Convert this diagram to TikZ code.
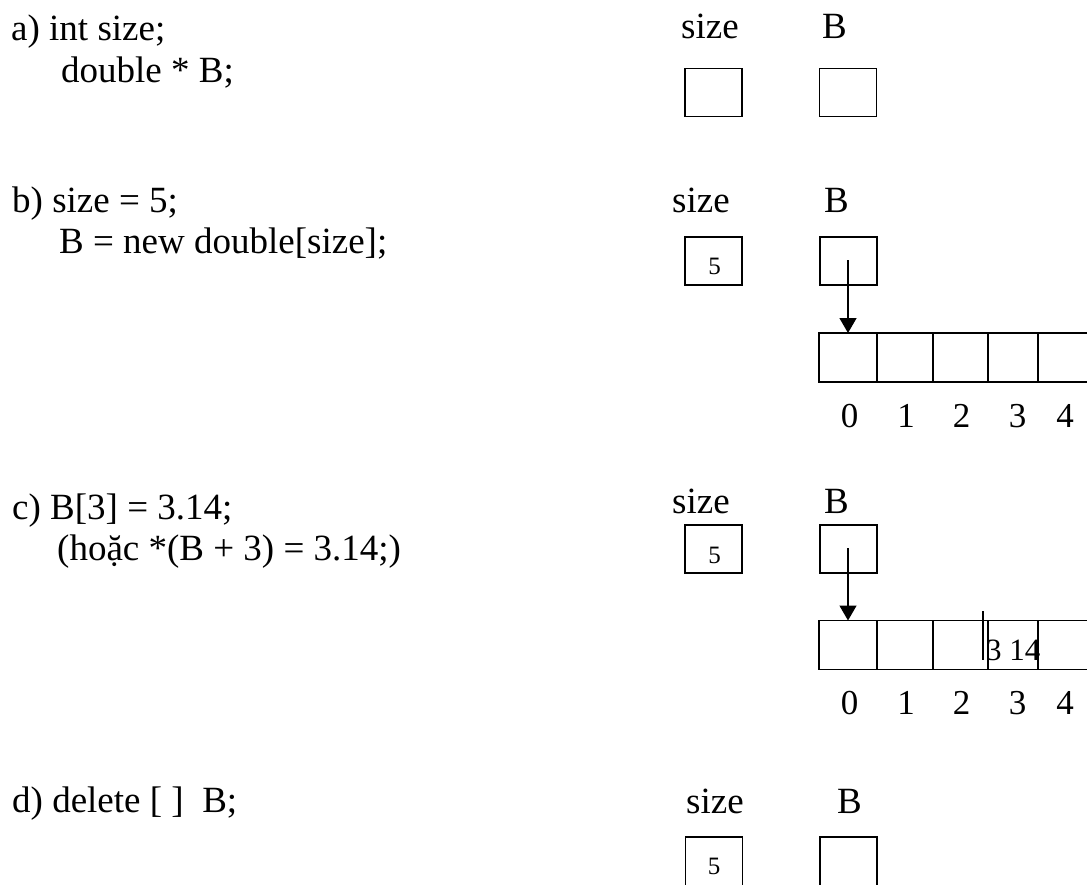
\documentclass[tikz,border=0pt]{standalone}
\usepackage{fontspec}
\setmainfont{Liberation Serif}
\usetikzlibrary{arrows.meta}
\begin{document}
\begin{tikzpicture}[x=1pt,y=-1pt,
  txt/.style={anchor=base west, inner sep=0pt, font=\fontsize{37}{41}\selectfont},
  val/.style={anchor=base, inner sep=0pt, font=\fontsize{25}{28}\selectfont},
  cellval/.style={anchor=base west, inner sep=0pt, font=\fontsize{31}{34}\selectfont},
  idx/.style={anchor=base, inner sep=0pt, font=\fontsize{35}{38}\selectfont},
  box/.style={draw, line width=1.6pt, inner sep=0pt, outer sep=0pt, minimum width=57pt, minimum height=48pt},
  cell/.style={draw, line width=1.6pt, inner sep=0pt, outer sep=0pt, minimum height=49pt},
  ptr/.style={line width=1.4pt, -{Triangle[length=15pt,width=17pt]}},
  tick/.style={line width=1.6pt}
]
\useasboundingbox (0,0) rectangle (1087,884);
\clip (0,0) rectangle (1087,884);

% ---------- a)
\node[txt] (ta1) at (11,40) {a) int size;};
\node[txt] (ta2) at (61,82) {double * B;};
\node[txt] (la1) at (681,38) {size};
\node[txt] (la2) at (822,38) {B};
\node[box] (sa) at (713.5,92.5) {};
\node[box] (ba) at (848,92.5) {};

% ---------- b)
\node[txt] (tb1) at (12,212) {b) size = 5;};
\node[txt] (tb2) at (59,253) {B = new double[size];};
\node[txt] (lb1) at (672,212) {size};
\node[txt] (lb2) at (824,212) {B};
\node[box] (sb) at (713.5,261) {};
\node[val] (vb) at (714.5,274) {5};
\node[box] (bb) at (848.5,261) {};
\coordinate (pb) at (848,260);
\node[cell, minimum width=58pt] (b0) at (848,357.5) {};
\node[cell, minimum width=56pt] (b1) at (905,357.5) {};
\node[cell, minimum width=55pt] (b2) at (960.5,357.5) {};
\node[cell, minimum width=50pt] (b3) at (1013,357.5) {};
\node[cell, minimum width=60pt] (b4) at (1068,357.5) {};
\draw[ptr] (pb) -- (b0.north);
\node[idx] (ib0) at (849.5,427) {0};
\node[idx] (ib1) at (906,427) {1};
\node[idx] (ib2) at (961.5,427) {2};
\node[idx] (ib3) at (1017.5,427) {3};
\node[idx] (ib4) at (1065,427) {4};

% ---------- c)
\node[txt] (tc1) at (12,519) {c) B[3] = 3.14;};
\node[txt] (tc2) at (57,560) {(hoặc *(B + 3) = 3.14;)};
\node[txt] (lc1) at (672,513) {size};
\node[txt] (lc2) at (824,513) {B};
\node[box] (sc) at (713.5,549) {};
\node[val] (vc) at (714.5,563) {5};
\node[box] (bc) at (848.5,549) {};
\coordinate (pc) at (848,548);
\node[cell, minimum width=58pt] (c0) at (848,645) {};
\node[cell, minimum width=56pt] (c1) at (905,645) {};
\node[cell, minimum width=55pt] (c2) at (960.5,645) {};
\node[cell, minimum width=50pt] (c3) at (1013,645) {};
\node[cell, minimum width=60pt] (c4) at (1068,645) {};
\draw[ptr] (pc) -- (c0.north);
\coordinate (mt) at (983,611);
\coordinate (mb) at (983,660);
\draw[tick] (mt) -- (mb);
\node[cellval] (v3) at (986,660) {3 14};
\node[idx] (ic0) at (849.5,714) {0};
\node[idx] (ic1) at (906,714) {1};
\node[idx] (ic2) at (961.5,714) {2};
\node[idx] (ic3) at (1017.5,714) {3};
\node[idx] (ic4) at (1065,714) {4};

% ---------- d)
\node[txt] (td1) at (12,812) {d) delete [ ]\ \ B;};
\node[txt] (ld1) at (686,813) {size};
\node[txt] (ld2) at (837,813) {B};
\node[box, minimum height=70pt] (sd) at (714,872) {};
\node[val] (vd) at (714,874) {5};
\node[box, minimum height=70pt] (bd) at (848.5,872) {};
\end{tikzpicture}
\end{document}
